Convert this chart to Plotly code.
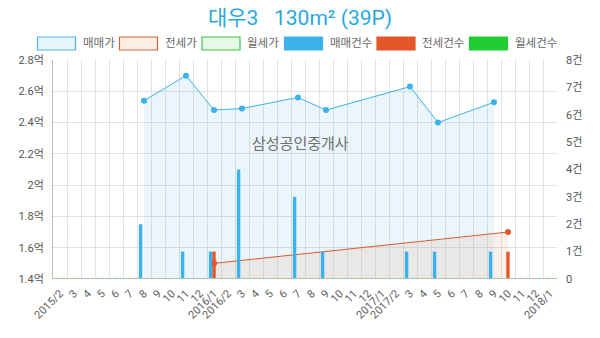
import plotly.graph_objects as go

# ---- data ----
months = [f"{y}/{m}" for y in (2015, 2016, 2017, 2018) for m in range(1, 13)]
months = months[months.index("2015/2"): months.index("2018/1") + 1]
tick_labels = ["2015/2"] + [str(m) for m in range(3, 13)] + ["2016/1", "2016/2"] + [str(m) for m in range(3, 13)] \
              + ["2017/1", "2017/2"] + [str(m) for m in range(3, 13)] + ["2018/1"]
N = len(months)
xpos = list(range(N))

def series(points, fill=None):
    vals = [fill] * N
    for k, v in points.items():
        vals[months.index(k)] = v
    return vals

# 매매가 (억)
sale_price = series({"2015/8": 2.54, "2015/11": 2.70, "2016/1": 2.48, "2016/3": 2.49, "2016/7": 2.56,
                     "2016/9": 2.48, "2017/3": 2.63, "2017/5": 2.40, "2017/9": 2.53})
# 전세가 (억)
jeonse_price = series({"2016/1": 1.50, "2017/10": 1.70})
# 월세가 (억) - none
wolse_price = [None] * N
# 매매건수
sale_count = series({"2015/8": 2, "2015/11": 1, "2016/1": 1, "2016/3": 4, "2016/7": 3,
                     "2016/9": 1, "2017/3": 1, "2017/5": 1, "2017/9": 1}, 0)
# 전세건수
jeonse_count = series({"2016/1": 1, "2017/10": 1}, 0)
# 월세건수
wolse_count = [0] * N

left_ticks = [1.4, 1.6, 1.8, 2.0, 2.2, 2.4, 2.6, 2.8]
left_labels = ["1.4억", "1.6억", "1.8억", "2억", "2.2억", "2.4억", "2.6억", "2.8억"]
right_ticks = list(range(0, 9))
right_labels = ["0"] + [f"{i}건" for i in range(1, 9)]

legend_names = ["매매가", "전세가", "월세가", "매매건수", "전세건수", "월세건수"]
title_text = "대우3\u00a0\u00a0\u00a0130m² (39P)"
watermark = "삼성공인중개사"

# ---- style ----
FONT = "Roboto, 'Noto Sans CJK KR', 'Noto Sans', sans-serif"
BLUE = "#3DB2EA"
ORANGE = "#E4572A"
GREEN = "#22CC33"
W, H = 600, 338
L, R, T, B = 53, 43, 60, 59

fig = go.Figure()

fig.add_trace(go.Scatter(x=xpos, y=sale_price, name=legend_names[0], mode="lines+markers",
                         connectgaps=True, fill="tozeroy", fillcolor="rgba(95,185,235,0.13)",
                         line=dict(color=BLUE, width=1), marker=dict(color=BLUE, size=6)))
fig.add_trace(go.Scatter(x=xpos, y=jeonse_price, name=legend_names[1], mode="lines+markers",
                         connectgaps=True, fill="tozeroy", fillcolor="rgba(232,178,150,0.2)",
                         line=dict(color="#DA5A2C", width=1), marker=dict(color=ORANGE, size=6)))
fig.add_trace(go.Scatter(x=xpos, y=wolse_price, name=legend_names[2], mode="lines",
                         line=dict(color=GREEN, width=1)))

fig.add_trace(go.Bar(x=xpos, y=sale_count, name=legend_names[3], yaxis="y2",
                     marker=dict(color=BLUE, line=dict(width=0))))
fig.add_trace(go.Bar(x=xpos, y=jeonse_count, name=legend_names[4], yaxis="y2",
                     marker=dict(color=ORANGE, line=dict(width=0))))
fig.add_trace(go.Bar(x=xpos, y=wolse_count, name=legend_names[5], yaxis="y2",
                     marker=dict(color=GREEN, line=dict(width=0))))

pw, ph = W - L - R, H - T - B
def px(x):
    return (x - L) / pw
def py(y):
    return (H - B - y) / ph

shapes = []
annotations = []
# custom legend
box_x = [37.5, 119.5, 202, 284.5, 377, 469.5]
box_w, box_y0, box_y1 = 38, 37, 50
fills = ["#E8F5FC", "#FCEDE5", "#E6F9E6", BLUE, ORANGE, GREEN]
borders = ["#4DB8E8", "#D2643A", "#3CC843", BLUE, ORANGE, GREEN]
for i, name in enumerate(legend_names):
    shapes.append(dict(type="rect", xref="paper", yref="paper",
                       x0=px(box_x[i]), x1=px(box_x[i] + box_w), y0=py(box_y1), y1=py(box_y0),
                       fillcolor=fills[i], line=dict(color=borders[i], width=1.2), layer="above"))
    annotations.append(dict(text=name, xref="paper", yref="paper", x=px(box_x[i] + box_w + 5),
                            y=py((box_y0 + box_y1) / 2), xanchor="left", yanchor="middle",
                            showarrow=False, font=dict(size=11.5, color="#666666", family=FONT)))

# dashed coloured baseline
for col, dash in [("#8EC9EC", "3px,6px"), ("#EDA58A", "0px,3px,3px,3px"), ("#8FDA8F", "0px,6px,3px,0px")]:
    shapes.append(dict(type="line", xref="paper", yref="y", x0=0, x1=1, y0=left_ticks[0], y1=left_ticks[0],
                       line=dict(color=col, width=2, dash=dash), layer="above"))

annotations.append(dict(text=watermark, xref="paper", yref="paper", x=px(300), y=py(144),
                        showarrow=False, font=dict(size=15, color="#707070", family=FONT)))

fig.update_layout(
    width=W, height=H,
    margin=dict(l=L, r=R, t=T, b=B, pad=0),
    paper_bgcolor="white", plot_bgcolor="white",
    font=dict(family=FONT, size=11, color="#555555"),
    title=dict(text=title_text, x=0.5, xanchor="center", y=1 - 18 / H, yanchor="middle",
               yref="container", font=dict(size=21, color="#2AA8E0", family=FONT)),
    barmode="group", bargap=0.27, bargroupgap=0, showlegend=False,
    xaxis=dict(range=[-0.5, N - 0.5], tickmode="array", tickvals=xpos, ticktext=tick_labels,
               tickangle=-45, showgrid=False, ticks="", showline=False, zeroline=False,
               ticklabelstandoff=5, tickfont=dict(size=11, color="#606060"),
               minor=dict(tickmode="array", tickvals=[i - 0.5 for i in range(N + 1)],
                          showgrid=True, gridcolor="#E2E2E2", gridwidth=1, ticks="")),
    yaxis=dict(range=[left_ticks[0], left_ticks[-1]], tickvals=left_ticks, ticktext=left_labels,
               showgrid=True, gridcolor="#E0E0E0", showline=True, linecolor="#BDBDBD", linewidth=1,
               zeroline=False, ticks="", ticklabelstandoff=6, tickfont=dict(size=11, color="#555555")),
    yaxis2=dict(range=[0, 8], tickvals=right_ticks, ticktext=right_labels, overlaying="y", side="right",
                showgrid=False, zeroline=False, showline=False, ticks="", ticklabelstandoff=8,
                tickfont=dict(size=11, color="#555555")),
    shapes=shapes, annotations=annotations,
)

fig.write_html("out.html")
